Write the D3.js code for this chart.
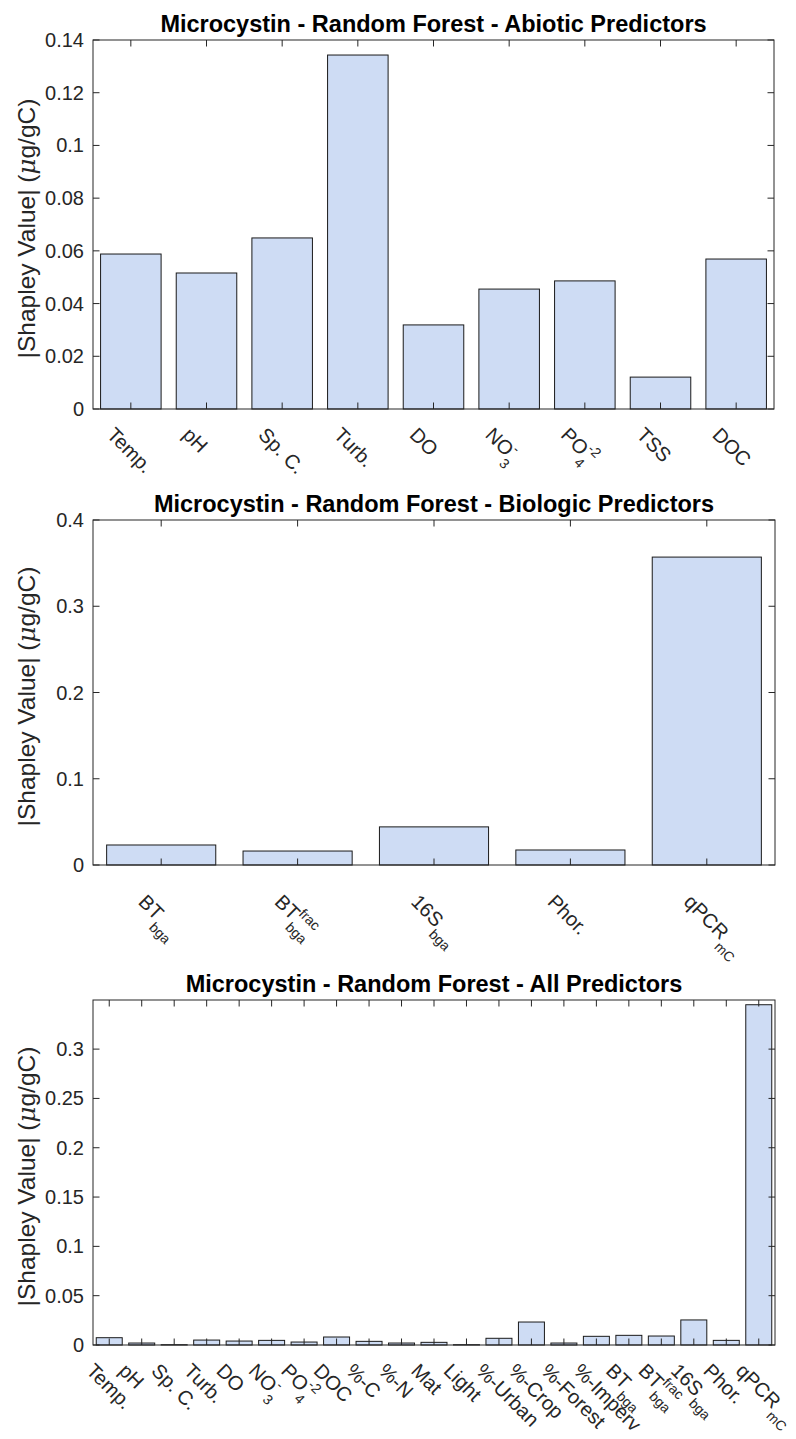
<!DOCTYPE html>
<html>
<head>
<meta charset="utf-8">
<script src="https://cdn.jsdelivr.net/npm/d3@7"></script>
<style>
  html, body { margin: 0; padding: 0; background: #fff; }
  svg text { font-family: "Liberation Sans", Arial, Helvetica, sans-serif; }
</style>
</head>
<body>
<svg id="fig" width="796" height="1439"></svg>
<script>
// Mean |Shapley| values (µg/gC) for the random forest microcystin model.
const abioticLabels = ["Temp.", "pH", "Sp. C.", "Turb.", "DO", "NO_3^-", "PO_4^{-2}", "TSS", "DOC"];
const abioticValues = [0.0588, 0.0516, 0.0649, 0.1343, 0.0319, 0.0455, 0.0486, 0.0121, 0.0569];
const abioticTicks = [0, 0.02, 0.04, 0.06, 0.08, 0.1, 0.12, 0.14];

const biologicLabels = ["BT_{bga}", "BT^{frac}_{bga}", "16S_{bga}", "Phor.", "qPCR_{mC}"];
const biologicValues = [0.0232, 0.0162, 0.0442, 0.0174, 0.3570];
const biologicTicks = [0, 0.1, 0.2, 0.3, 0.4];

const allLabels = ["Temp.", "pH", "Sp. C.", "Turb.", "DO", "NO_3^-", "PO_4^{-2}", "DOC", "%-C", "%-N",
  "Mat", "Light", "%-Urban", "%-Crop", "%-Forest", "%-Imperv", "BT_{bga}", "BT^{frac}_{bga}",
  "16S_{bga}", "Phor.", "qPCR_{mC}"];
const allValues = [0.0074, 0.0020, 0.0003, 0.0050, 0.0040, 0.0047, 0.0030, 0.0081, 0.0037, 0.0020,
  0.0027, 0.0003, 0.0068, 0.0233, 0.0020, 0.0088, 0.0098, 0.0091, 0.0254, 0.0047, 0.3450];
const allTicks = [0, 0.05, 0.1, 0.15, 0.2, 0.25, 0.3];

const svg = d3.select("#fig");
const AXIS = "#262626";
const BAR = "#cedcf4";
const FS = 20;          // tick label size
const SCRIPT = 0.7;     // sub/superscript scale

// Split a TeX-like label ("PO_4^{-2}") into base / sub / sup runs.
function parseTex(s) {
  const segs = [];
  let base = "", i = 0;
  while (i < s.length) {
    const c = s[i];
    if (c === "_" || c === "^") {
      if (base) { segs.push({ t: base, k: "base" }); base = ""; }
      i++;
      let g;
      if (s[i] === "{") { const j = s.indexOf("}", i); g = s.slice(i + 1, j); i = j + 1; }
      else { g = s[i]; i++; }
      segs.push({ t: g, k: c === "_" ? "sub" : "sup" });
    } else { base += c; i++; }
  }
  if (base) segs.push({ t: base, k: "base" });
  return segs;
}

function texLabel(textSel, str) {
  const segs = parseTex(str);
  let cur = 0, prevScriptW = 0, prevWasScript = false;
  const off = { base: 0, sub: 10, sup: -9 };
  segs.forEach(sg => {
    const ts = textSel.append("tspan").text(sg.t)
      .attr("font-size", sg.k === "base" ? FS : FS * SCRIPT)
      .attr("dy", off[sg.k] - cur);
    if (sg.k !== "base" && prevWasScript) ts.attr("dx", -prevScriptW);
    cur = off[sg.k];
    const w = ts.node().getComputedTextLength();
    if (sg.k === "base") { prevWasScript = false; prevScriptW = 0; }
    else { prevWasScript = true; prevScriptW = w; }
  });
}

function drawChart(cfg) {
  const { left, right, top, bottom, labels, values, ticks, yMax, title, labDx, labDy } = cfg;
  const g = svg.append("g");
  const x = d3.scaleBand().domain(labels).range([left, right]).paddingInner(0.2).paddingOuter(0.1);
  const y = d3.scaleLinear().domain([0, yMax]).range([bottom, top]);
  const fmt = d3.format("~g");
  const tickLen = 6.5;

  // bars
  g.selectAll("rect.bar").data(values).join("rect")
    .attr("class", "bar")
    .attr("x", (d, i) => x(labels[i]))
    .attr("width", x.bandwidth())
    .attr("y", d => y(d))
    .attr("height", d => y(0) - y(d))
    .attr("fill", BAR)
    .attr("stroke", "#1a1a1a")
    .attr("stroke-width", 1);

  // axes on top of the bars, box with mirrored inward ticks
  const ax = g.append("g").attr("stroke", AXIS).attr("stroke-width", 1).attr("fill", "none");
  ax.append("rect").attr("x", left).attr("y", top).attr("width", right - left).attr("height", bottom - top);
  labels.forEach(l => {
    const cx = x(l) + x.bandwidth() / 2;
    ax.append("line").attr("x1", cx).attr("x2", cx).attr("y1", bottom).attr("y2", bottom - tickLen);
    ax.append("line").attr("x1", cx).attr("x2", cx).attr("y1", top).attr("y2", top + tickLen);
  });
  ticks.forEach(t => {
    const ty = y(t);
    ax.append("line").attr("x1", left).attr("x2", left + tickLen).attr("y1", ty).attr("y2", ty);
    ax.append("line").attr("x1", right).attr("x2", right - tickLen).attr("y1", ty).attr("y2", ty);
  });

  // y tick labels
  g.selectAll("text.ytick").data(ticks).join("text")
    .attr("class", "ytick")
    .attr("x", left - 9)
    .attr("y", d => y(d))
    .attr("dy", "0.35em")
    .attr("text-anchor", "end")
    .attr("font-size", FS)
    .attr("fill", AXIS)
    .text(d => fmt(d));

  // rotated x tick labels
  labels.forEach(l => {
    const cx = x(l) + x.bandwidth() / 2;
    const px = cx + labDx, py = bottom + labDy;
    const t = g.append("text")
      .attr("transform", `translate(${px},${py}) rotate(45)`)
      .attr("fill", AXIS);
    texLabel(t, l);
  });

  // y label
  const yl = g.append("text")
    .attr("transform", `translate(35,${(top + bottom) / 2 + 4}) rotate(-90)`)
    .attr("text-anchor", "middle")
    .attr("font-size", 24.5)
    .attr("fill", AXIS);
  yl.append("tspan").text("|Shapley Value| (");
  yl.append("tspan").text("μ").attr("font-style", "italic").attr("font-family", "'DejaVu Serif', 'Liberation Serif', serif");
  yl.append("tspan").text("g/gC)");

  // title
  g.append("text")
    .attr("x", (left + right) / 2)
    .attr("y", top - 8)
    .attr("text-anchor", "middle")
    .attr("font-size", 23.5)
    .attr("font-weight", "bold")
    .attr("fill", "#000")
    .text(title);
}

drawChart({
  left: 93, right: 774, top: 40, bottom: 409,
  labels: abioticLabels, values: abioticValues, ticks: abioticTicks, yMax: 0.14,
  title: "Microcystin - Random Forest - Abiotic Predictors", labDx: -25, labDy: 27
});
drawChart({
  left: 93, right: 775, top: 520, bottom: 865,
  labels: biologicLabels, values: biologicValues, ticks: biologicTicks, yMax: 0.4,
  title: "Microcystin - Random Forest - Biologic Predictors", labDx: -24, labDy: 38
});
drawChart({
  left: 93, right: 775, top: 1000, bottom: 1345,
  labels: allLabels, values: allValues, ticks: allTicks, yMax: 0.3498,
  title: "Microcystin - Random Forest - All Predictors", labDx: -24, labDy: 27
});
</script>
</body>
</html>
